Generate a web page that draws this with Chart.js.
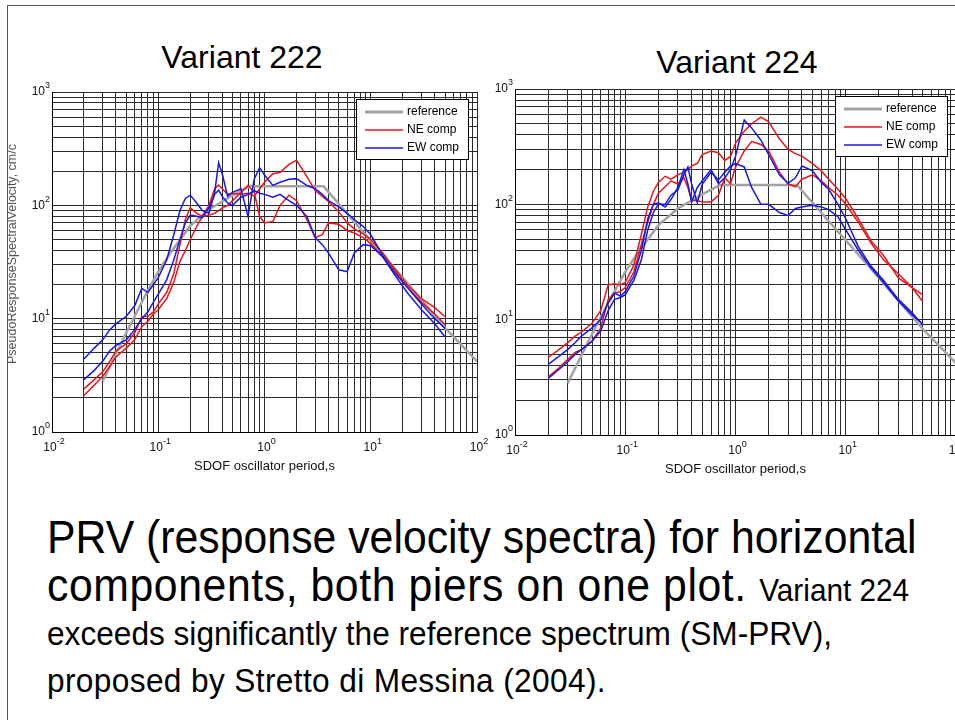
<!DOCTYPE html>
<html lang="en">
<head>
<meta charset="UTF-8">
<title>PRV spectra, Variant 222 / 224</title>
<script src="https://cdn.jsdelivr.net/npm/chart.js"></script>
<style>
    body {
        margin: 0;
        width: 955px;
        height: 720px;
        overflow: hidden;
        background: #fff;
        position: relative;
        font-family: "Liberation Sans", Arial, sans-serif;
        color: #000;
    }
    #frame {
        position: absolute;
        left: 7px;
        top: 5px;
        width: 1100px;
        height: 900px;
        border-left: 1px solid #555;
        border-top: 1px solid #555;
    }
    canvas { position: absolute; }
    .title {
        position: absolute;
        font-size: 32px;
        line-height: 32px;
        white-space: nowrap;
        transform: translateX(-50%);
    }
    .line {
        position: absolute;
        left: 47px;
        white-space: nowrap;
        transform: scaleX(0.93);
        transform-origin: left top;
    }
    .big { font-size: 46px; line-height: 46px; }
    .big span { font-size: 32px; letter-spacing: 0; }
    .small { font-size: 34px; line-height: 34px; }
</style>
</head>
<body>
<div id="frame"></div>
<div class="title" style="left:242px; top:41px;">Variant 222</div>
<div class="title" style="left:737px; top:46px;">Variant 224</div>
<canvas id="c222" width="495" height="440" style="left:0; top:40px;"></canvas>
<canvas id="c224" width="470" height="440" style="left:490px; top:40px;"></canvas>

<div class="line big" style="top:514px;">PRV (response velocity spectra) for horizontal</div>
<div class="line big" style="top:562px; letter-spacing:0.6px;">components, both piers on one plot. <span>Variant 224</span></div>
<div class="line small" style="top:616px;">exceeds significantly the reference spectrum (SM-PRV),</div>
<div class="line small" style="top:663px; letter-spacing:0.4px;">proposed by Stretto di Messina (2004).</div>

<script>
// oscillator periods (s) used by all recorded curves
var periods = [0.02, 0.025, 0.03, 0.035, 0.04, 0.05, 0.06, 0.07, 0.08, 0.09,
    0.1, 0.12, 0.14, 0.16, 0.18, 0.2, 0.23, 0.26, 0.3, 0.34,
    0.37, 0.4, 0.45, 0.5, 0.6, 0.7, 0.8, 0.9, 1.0, 1.2,
    1.4, 1.7, 2.0, 2.5, 3.0, 3.5, 4.0, 5.0, 6.0, 7.0,
    8.5, 10, 13, 17, 22, 30, 40, 50];

// reference spectrum SM-PRV
var refPeriods = [0.03, 0.05, 0.07, 0.1, 0.13, 0.2, 0.3, 0.5, 0.72, 3.6, 8, 20, 50, 100];
var refValues = [2.8, 7.5, 14, 26, 38, 66, 92, 122, 147, 147, 62, 23, 8.3, 4.2];

// Variant 222, cm/s
var v222_NE1 = [2.4, 2.9, 3.4, 4.2, 5.2, 6.0, 7.5, 10.4, 10.5, 11.5,
    13.5, 17, 25, 45, 75, 95, 85, 80, 100, 140,
    151, 140, 125, 128, 125, 128, 120, 140, 160, 190,
    195, 230, 250, 180, 135, 120, 108, 88, 70, 62,
    56, 50, 38, 27, 20, 15, 12.5, 10.4];
var v222_NE2 = [2.1, 2.6, 3.1, 3.8, 4.6, 5.5, 6.5, 8.5, 9.5, 11,
    12, 15, 21, 32, 40, 50, 65, 80, 82, 85,
    90, 95, 100, 110, 130, 150, 130, 80, 70, 72,
    100, 123, 110, 75, 52, 55, 70, 68, 60, 57,
    52, 46, 35, 26, 19, 14, 11, 8.9];
var v222_EW1 = [4.4, 5.5, 6.5, 8, 9, 10.5, 13, 18.5, 17, 20,
    23, 33, 55, 90, 115, 123, 105, 90, 85, 130,
    238, 190, 120, 130, 140, 80, 170, 215, 185, 150,
    160, 170, 172, 150, 140, 125, 110, 97, 85, 75,
    65, 55, 36, 25, 19, 13.5, 10, 8.2];
var v222_EW2 = [2.9, 3.5, 4.2, 5.2, 5.8, 6.5, 8, 10, 11.5, 14,
    16.5, 22, 33, 50, 70, 82, 80, 78, 95, 125,
    136, 120, 105, 100, 118, 125, 135, 128, 125, 118,
    125, 110, 100, 80, 52, 45, 38, 27, 26, 38,
    45, 44, 35, 24, 17, 12, 9, 6.9];

// Variant 224, cm/s
var v224_NE1 = [4.7, 5.5, 6.3, 7.2, 7.8, 9.3, 12, 20, 20.5, 20,
    21, 30, 55, 95, 130, 155, 175, 165, 180, 190,
    200, 215, 226, 270, 290, 280, 240, 260, 340, 430,
    500, 570, 520, 370, 300, 275, 262, 225, 195, 165,
    135, 112, 75, 48, 36, 23, 19, 16.4];
var v224_NE2 = [3.2, 3.8, 4.5, 5.2, 5.5, 6.5, 8.5, 15, 17, 17.5,
    19, 26, 45, 70, 100, 125, 142, 160, 150, 170,
    140, 108, 108, 105, 105, 120, 170, 151, 210, 290,
    350, 330, 290, 190, 150, 142, 165, 180, 160, 140,
    120, 100, 70, 46, 33, 25, 19, 14.3];
var v224_EW1 = [4.1, 4.8, 5.5, 6.3, 7.2, 8.5, 10, 14, 17, 16,
    17.5, 24, 40, 75, 100, 103, 95, 110, 140, 200,
    150, 105, 140, 160, 200, 151, 170, 200, 260, 538,
    460, 360, 270, 180, 152, 170, 215, 195, 155, 135,
    100, 75, 43, 29, 22, 15, 11.5, 9.0];
var v224_EW2 = [3.1, 3.7, 4.3, 5.0, 5.5, 6.5, 8, 12, 15, 15.5,
    16.5, 22, 33, 60, 85, 100, 100, 120, 133, 180,
    211, 150, 103, 150, 190, 163, 190, 215, 226, 211,
    140, 100, 100, 85, 80, 92, 95, 98, 95, 90,
    78, 60, 40, 28, 21, 14.5, 11, 9.2];

// axes
var xDecades = [0.01, 0.1, 1, 10];
var yDecades = [1, 10, 100];
var minorSteps = [1, 2, 3, 4, 5, 6, 7, 8, 9];
var xLabelExps = [-2, -1, 0, 1, 2];
var yLabelExps = [0, 1, 2, 3];
var xTitle = 'SDOF oscillator period,s';
var yTitle = 'PseudoResponseSpectralVelocity, cm/c';
var legendLabels = ['reference', 'NE comp', 'EW comp'];

var RED = '#e8151b';
var BLUE = '#1818e6';
var GRAY = '#a3a3a3';
var FONT = "'Liberation Sans', Arial, sans-serif";

function logGrid(decades, last) {
    var out = [];
    decades.forEach(function (d) {
        minorSteps.forEach(function (m) { out.push(m * d); });
    });
    out.push(last);
    return out;
}
var gridX = logGrid(xDecades, 100);
var gridY = logGrid(yDecades, 1000);

function pts(xs, ys) {
    return xs.map(function (x, i) { return { x: x, y: ys[i] }; });
}

function drawPow(ctx, x, y, exp, align) {
    ctx.font = '12px ' + FONT;
    var wb = ctx.measureText('10').width;
    ctx.font = '9px ' + FONT;
    var we = ctx.measureText(String(exp)).width;
    var x0 = align === 'right' ? x - wb - we : x - (wb + we) / 2;
    ctx.textAlign = 'left';
    ctx.textBaseline = 'middle';
    ctx.font = '12px ' + FONT;
    ctx.fillText('10', x0, y);
    ctx.font = '9px ' + FONT;
    ctx.fillText(String(exp), x0 + wb, y - 6);
}

// tick labels, axis titles and the boxed legend
var decor = {
    id: 'decor',
    afterDraw: function (chart, args, opts) {
        var ctx = chart.ctx, a = chart.chartArea;
        var xs = chart.scales.x, ys = chart.scales.y;
        ctx.save();
        ctx.fillStyle = '#111';
        xLabelExps.forEach(function (e) {
            drawPow(ctx, xs.getPixelForValue(Math.pow(10, e)) + 2, a.bottom + 16, e, 'center');
        });
        yLabelExps.forEach(function (e) {
            drawPow(ctx, a.left - 2, ys.getPixelForValue(Math.pow(10, e)), e, 'right');
        });
        ctx.font = '13px ' + FONT;
        ctx.textAlign = 'center';
        ctx.textBaseline = 'alphabetic';
        ctx.fillText(xTitle, xs.getPixelForValue(1), a.bottom + 38);
        if (opts.showYTitle) {
            ctx.save();
            ctx.translate(16, 214);
            ctx.rotate(-Math.PI / 2);
            ctx.fillStyle = '#555';
            ctx.font = '12.5px ' + FONT;
            ctx.fillText(yTitle, 0, 0);
            ctx.restore();
        }
        // legend
        var bw = 112, bh = 60;
        var bx = a.right - 9 - bw, by = a.top + 7;
        ctx.fillStyle = '#fff';
        ctx.fillRect(bx, by, bw, bh);
        ctx.strokeStyle = '#000';
        ctx.lineWidth = 1;
        ctx.strokeRect(bx + 0.5, by + 0.5, bw, bh);
        var colors = [GRAY, RED, BLUE];
        var widths = [3, 1.6, 1.6];
        legendLabels.forEach(function (lab, i) {
            var ry = by + 13 + i * 18;
            ctx.strokeStyle = colors[i];
            ctx.lineWidth = widths[i];
            ctx.beginPath();
            ctx.moveTo(bx + 9, ry);
            ctx.lineTo(bx + 47, ry);
            ctx.stroke();
            ctx.fillStyle = '#000';
            ctx.font = '12px ' + FONT;
            ctx.textAlign = 'left';
            ctx.textBaseline = 'middle';
            ctx.fillText(lab, bx + 51, ry);
        });
        ctx.restore();
    }
};

function series(data, color) {
    return {
        data: pts(periods, data),
        borderColor: color,
        borderWidth: 1.5,
        pointRadius: 0,
        tension: 0,
        fill: false
    };
}

function makeChart(id, curves, geo) {
    var datasets = [
        series(curves[2], BLUE),
        series(curves[3], BLUE),
        series(curves[0], RED),
        series(curves[1], RED),
        {
            data: pts(refPeriods, refValues),
            borderColor: GRAY,
            borderWidth: 2.5,
            pointRadius: 0,
            tension: 0,
            fill: false
        }
    ];
    return new Chart(document.getElementById(id), {
        type: 'line',
        data: { datasets: datasets },
        plugins: [decor],
        options: {
            responsive: false,
            animation: false,
            devicePixelRatio: 1,
            layout: { padding: { top: geo.top, right: geo.right, left: 0, bottom: 0 } },
            plugins: {
                legend: { display: false },
                tooltip: { enabled: false },
                decor: { showYTitle: geo.yTitle }
            },
            scales: {
                x: {
                    type: 'logarithmic',
                    min: 0.01,
                    max: 100,
                    afterBuildTicks: function (s) { s.ticks = gridX.map(function (v) { return { value: v }; }); },
                    afterFit: function (s) { s.height = geo.xh; },
                    ticks: { display: false, autoSkip: false },
                    grid: { color: '#2a2a2a', lineWidth: 1, drawTicks: false },
                    border: { display: true, color: '#000' }
                },
                y: {
                    type: 'logarithmic',
                    min: 1,
                    max: 1000,
                    afterBuildTicks: function (s) { s.ticks = gridY.map(function (v) { return { value: v }; }); },
                    afterFit: function (s) { s.width = geo.yw; },
                    ticks: { display: false, autoSkip: false },
                    grid: { color: '#2a2a2a', lineWidth: 1, drawTicks: false },
                    border: { display: true, color: '#000' }
                }
            }
        }
    });
}

makeChart('c222', [v222_NE1, v222_NE2, v222_EW1, v222_EW2],
    { top: 52, right: 18, yw: 52, xh: 48, yTitle: true });
makeChart('c224', [v224_NE1, v224_NE2, v224_EW1, v224_EW2],
    { top: 49, right: 4, yw: 25, xh: 45, yTitle: false });
</script>
</body>
</html>
